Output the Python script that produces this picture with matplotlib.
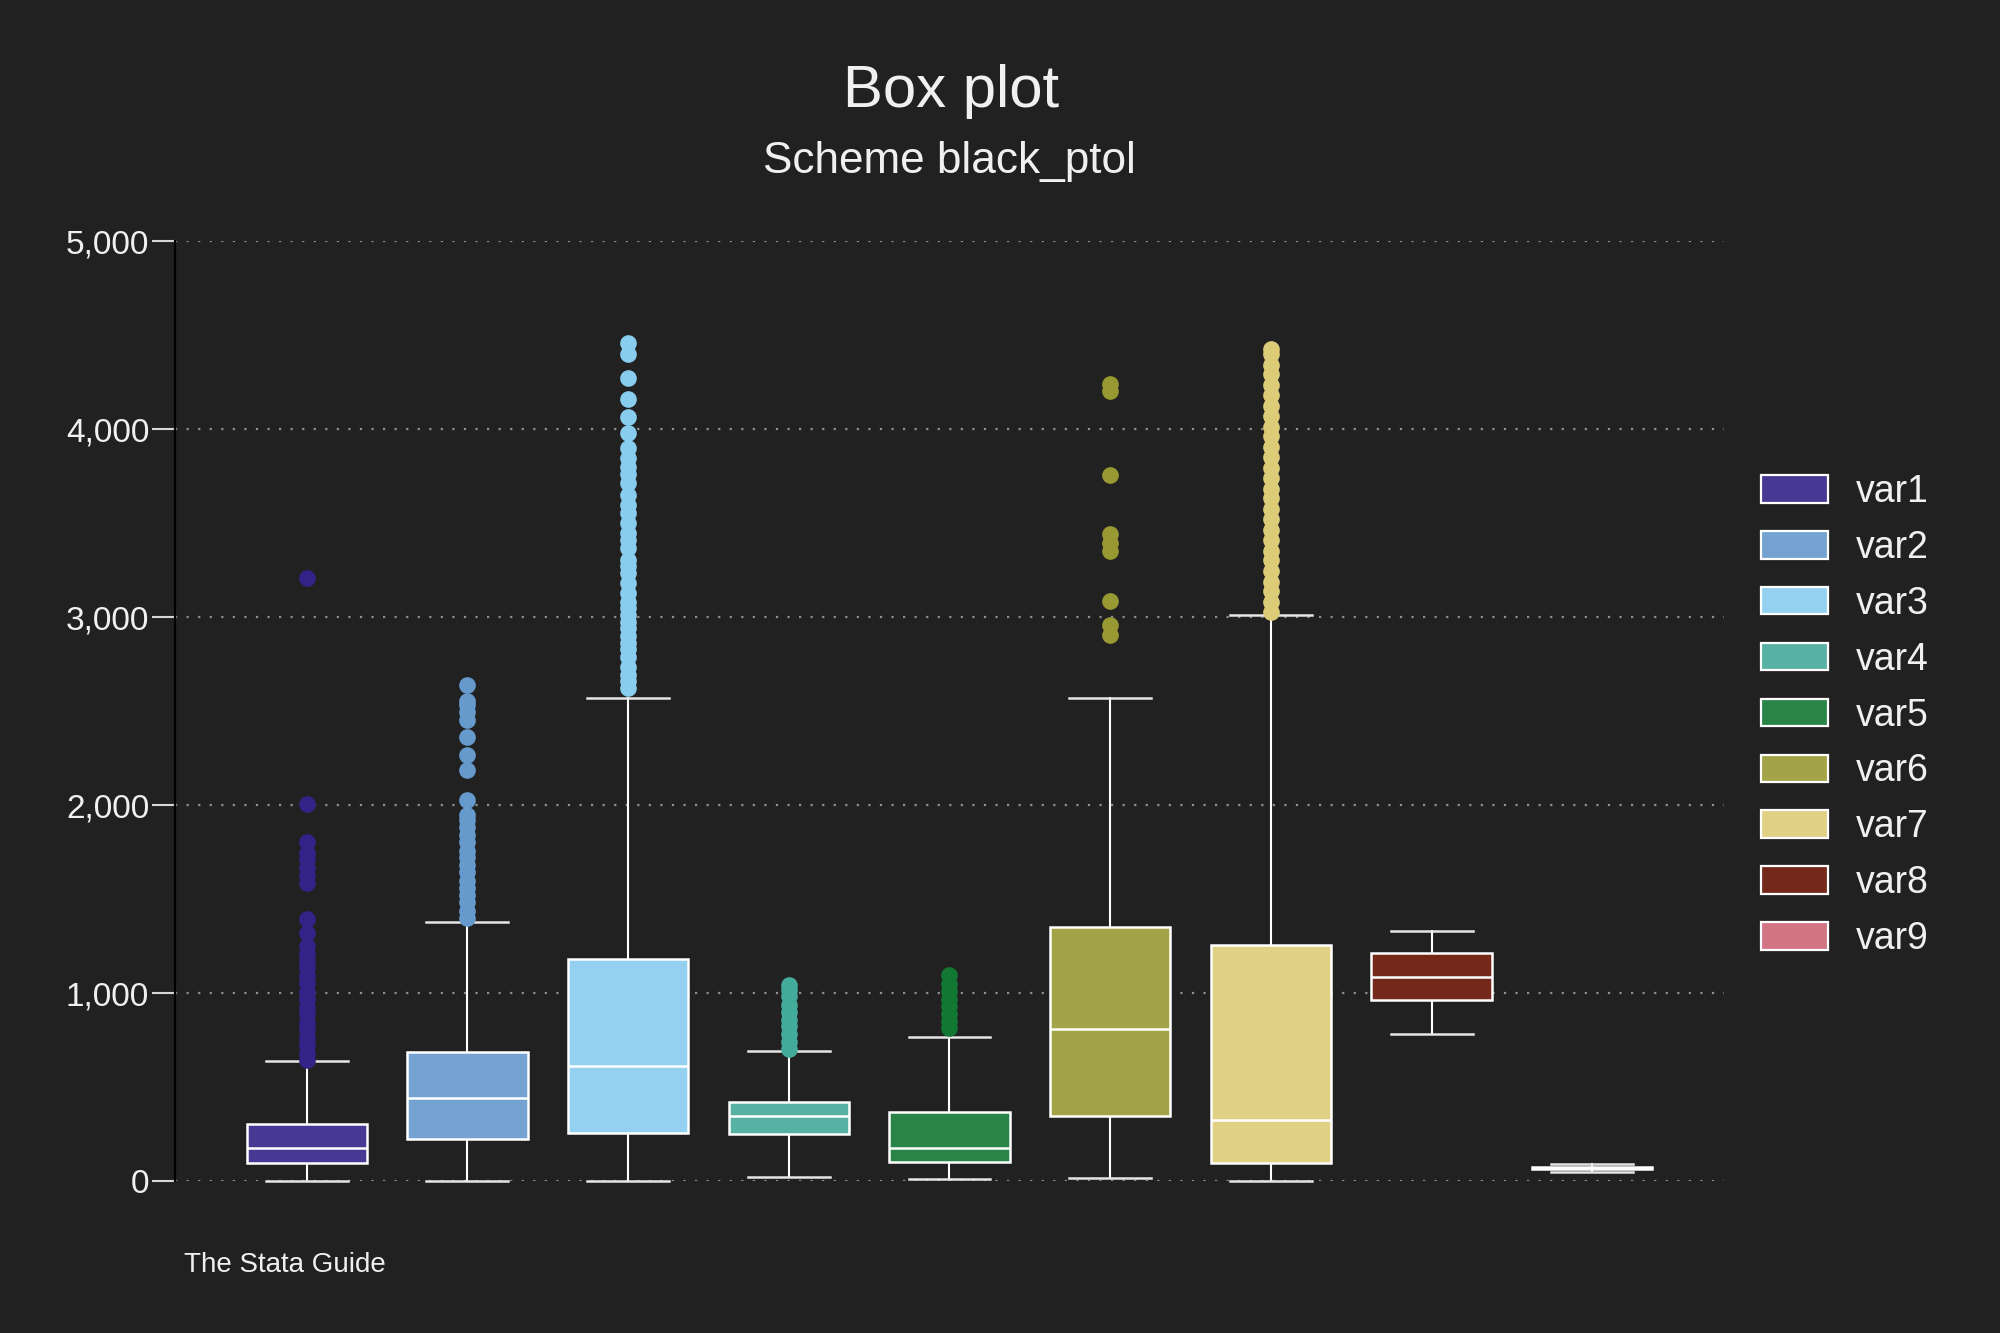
import matplotlib
matplotlib.use("Agg")
import matplotlib.pyplot as plt
from matplotlib.patches import Patch
from matplotlib import font_manager

# ---------------- data ----------------
labels = ["var1", "var2", "var3", "var4", "var5", "var6", "var7", "var8", "var9"]
whislo = [0, 0, 0, 23, 11, 14, 0, 780, 46]
q1 = [96, 224, 258, 250, 101, 346, 95, 963, 65]
med = [175, 444, 611, 347, 175, 807, 326, 1085, 69]
q3 = [305, 686, 1180, 418, 369, 1350, 1255, 1214, 73]
whishi = [641, 1379, 2571, 691, 768, 2571, 3012, 1330, 90]

out_var1 = [645, 680, 722, 760, 805, 842, 888, 925, 968, 1006, 1052, 1088, 1131, 1172,
            1206, 1251, 1318, 1392, 1587, 1621, 1666, 1711, 1744, 1805, 2007, 3206]
out_var2 = [1400, 1438, 1482, 1519, 1561, 1598, 1642, 1679, 1722, 1758, 1801, 1838,
            1881, 1918, 1946, 2025, 2186, 2265, 2361, 2451, 2496, 2530, 2552, 2641]
out_var3 = [2621, 2660, 2691, 2736, 2789, 2830, 2860, 2900, 2940, 2975, 3011, 3050,
            3081, 3127, 3180, 3233, 3270, 3303, 3366, 3410, 3446, 3500, 3553, 3596,
            3649, 3713, 3760, 3800, 3845, 3899, 3978, 4066, 4160, 4271, 4399, 4459]
out_var4 = [700, 738, 781, 822, 858, 901, 939, 982, 1018, 1045]
out_var5 = [812, 851, 889, 931, 968, 1012, 1049, 1096]
out_var6 = [2904, 2957, 3083, 3351, 3396, 3441, 3755, 4204, 4239]
out_var7 = [3025, 3078, 3136, 3188, 3247, 3301, 3352, 3412, 3463, 3522, 3574, 3631,
            3683, 3742, 3793, 3851, 3904, 3962, 4013, 4071, 4124, 4182, 4233, 4291,
            4342, 4398, 4425]
out_var8 = []
out_var9 = []
outliers = [out_var1, out_var2, out_var3, out_var4, out_var5, out_var6, out_var7,
            out_var8, out_var9]

base_colors = ["#332288", "#6699CC", "#88CCEE", "#44AA99", "#117733",
               "#999933", "#DDCC77", "#661100", "#CC6677"]
yticks = [0, 1000, 2000, 3000, 4000, 5000]
ytick_labels = ["0", "1,000", "2,000", "3,000", "4,000", "5,000"]

# ---------------- style ----------------
BG = "#212121"
FG = "#f0f0f0"
avail = {f.name for f in font_manager.fontManager.ttflist}
font = "Liberation Sans"
for cand in ("Liberation Sans Narrow", "Arial Narrow"):
    if cand in avail:
        font = cand
        break
plt.rcParams["font.family"] = [font, "DejaVu Sans"]


def lighten(hexc, a=0.10):
    h = hexc.lstrip("#")
    r, g, b = (int(h[i:i + 2], 16) for i in (0, 2, 4))
    r, g, b = (round(c + (255 - c) * a) for c in (r, g, b))
    return "#{:02x}{:02x}{:02x}".format(r, g, b)


fill_colors = [lighten(c) for c in base_colors]

fig = plt.figure(figsize=(10, 6.665), dpi=200, facecolor=BG)
ax = fig.add_axes([0.0875, 0.114, 0.7745, 0.7052], facecolor=BG)

stats = []
for i in range(len(labels)):
    stats.append(dict(label=labels[i], whislo=whislo[i], q1=q1[i], med=med[i],
                      q3=q3[i], whishi=whishi[i], fliers=outliers[i]))

positions = list(range(1, len(labels) + 1))
d = ax.bxp(stats, positions=positions, widths=0.75, patch_artist=True,
           capwidths=0.51, showfliers=True,
           boxprops=dict(edgecolor="white", linewidth=0.9),
           medianprops=dict(color="white", linewidth=0.9),
           whiskerprops=dict(color="white", linewidth=0.75),
           capprops=dict(color="#e6e6e6", linewidth=0.9),
           flierprops=dict(marker="o", markersize=6, markeredgewidth=0))

for i, box in enumerate(d["boxes"]):
    box.set_facecolor(fill_colors[i])
    box.set_zorder(3)
for i, fl in enumerate(d["fliers"]):
    fl.set_markerfacecolor(base_colors[i])
    fl.set_markeredgecolor(base_colors[i])
    fl.set_zorder(4)
for key in ("boxes", "medians", "whiskers", "caps", "fliers"):
    for art in d[key]:
        art.set_clip_on(False)
for m in d["medians"]:
    m.set_zorder(5)

ax.set_xlim(0.18, 9.82)
ax.set_ylim(0, 5000)
ax.set_yticks(yticks)
ax.set_yticklabels(ytick_labels)
ax.set_xticks([])

ax.yaxis.grid(True, color="#8f8f8f", linestyle=(0, (1, 4.2)), linewidth=0.8)
ax.set_axisbelow(True)

for s in ("top", "right", "bottom"):
    ax.spines[s].set_visible(False)
ax.spines["left"].set_color("#000000")
ax.spines["left"].set_linewidth(0.8)

ax.tick_params(axis="y", direction="out", length=8.3, width=0.75, color="#d8d8d8",
               labelcolor=FG, labelsize=12, pad=1.0)

# titles and caption
fig.text(0.4755, 0.920, "Box plot", ha="center", va="baseline", color=FG, fontsize=21.6)
fig.text(0.4745, 0.870, "Scheme black_ptol", ha="center", va="baseline", color=FG,
         fontsize=15.9)
fig.text(0.092, 0.046, "The Stata Guide", ha="left", va="baseline", color=FG, fontsize=10)

# legend
handles = [Patch(facecolor=fill_colors[i], edgecolor="white", linewidth=0.8,
                 label=labels[i]) for i in range(len(labels))]
leg = fig.legend(handles=handles, loc="center left", bbox_to_anchor=(0.8805, 0.4632),
                 frameon=False, fontsize=13.5, labelcolor=FG, handlelength=1.79,
                 handleheight=0.75, handletextpad=0.75, labelspacing=0.53,
                 borderpad=0, borderaxespad=0)

fig.savefig("out.png", dpi=200, facecolor=BG)
